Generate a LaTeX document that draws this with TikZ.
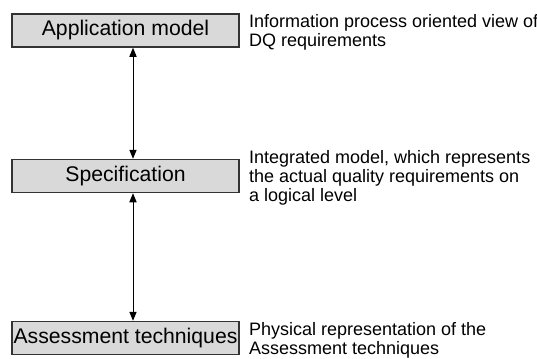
\documentclass[tikz,border=0pt]{standalone}
\usepackage{fontspec}
\setmainfont{Liberation Sans}
\usetikzlibrary{arrows.meta,positioning}
\definecolor{boxgray}{HTML}{D9D9D9}

\begin{document}
\begin{tikzpicture}[x=0.5pt,y=-0.5pt,
    level/.style={draw=black!80,line width=0.75pt,fill=boxgray,
                  minimum width=113.5pt,minimum height=16.5pt,inner sep=0pt,
                  font=\fontsize{10.6}{12}\selectfont},
    note/.style={align=left,inner sep=0pt,anchor=west,
                 font=\fontsize{9}{9.6}\selectfont},
    link/.style={{Triangle[length=4.5pt,width=3.6pt]}-{Triangle[length=4.5pt,width=3.6pt]},
                 line width=0.5pt}]
  \useasboundingbox (0,0) rectangle (537,359);
  % the three levels, top to bottom
  \node[level] (app)    at (125.5,30.5) {Application model};
  \node[level] (spec)   at (125.5,176)  {Specification};
  \node[level] (assess) at (125.5,338)  {Assessment techniques};
  % explanations to the right of each box
  \node[note] (appnote)    at ([xshift=4.5pt,yshift=-0.75pt]app.east)
        {Information process oriented view of\\DQ requirements};
  \node[note] (specnote)   at ([xshift=4.5pt,yshift=-1pt]spec.east)
        {Integrated model, which represents\\the actual quality requirements on\\a logical level};
  \node[note] (assessnote) at ([xshift=4.5pt,yshift=-1pt]assess.east)
        {Physical representation of the\\Assessment techniques};
  \draw[link] ([xshift=3.75pt]app.south)  -- ([xshift=3.75pt]spec.north);
  \draw[link] ([xshift=3.75pt]spec.south) -- ([xshift=3.75pt]assess.north);
\end{tikzpicture}
\end{document}
